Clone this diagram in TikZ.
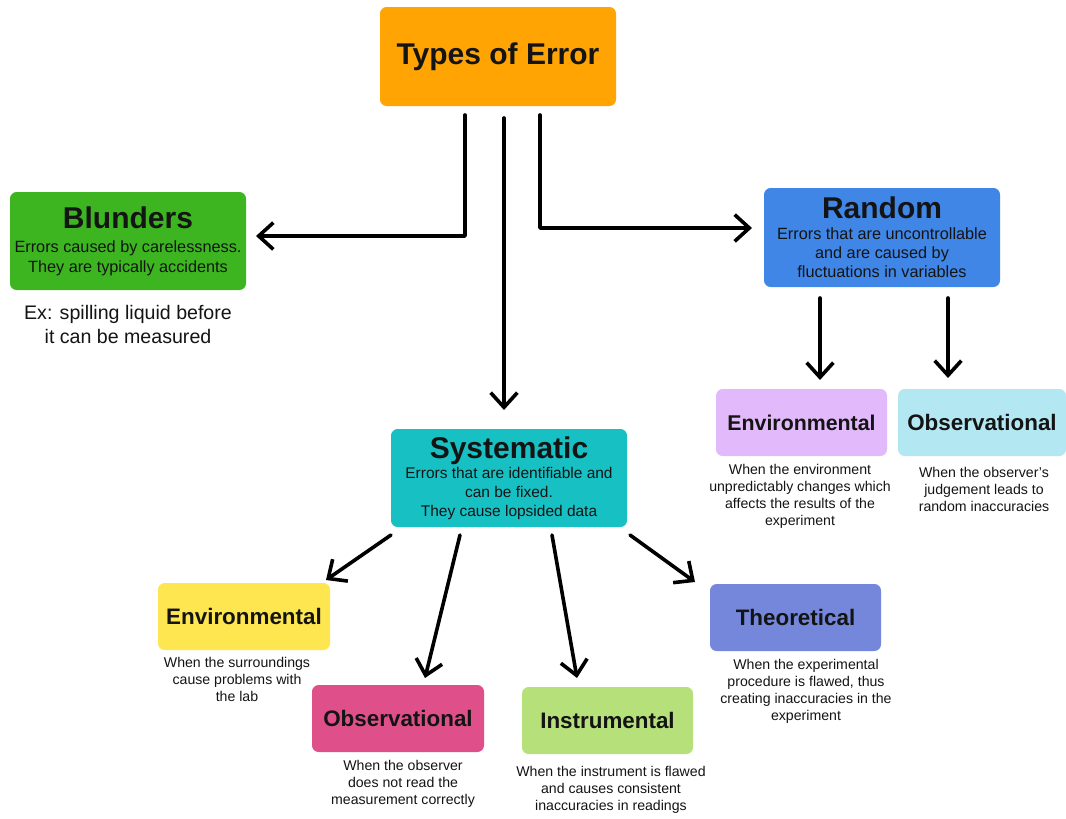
\documentclass[tikz,border=0pt]{standalone}
\usepackage{fontspec}
\setmainfont{Liberation Sans}
\usetikzlibrary{arrows.meta,calc}
\definecolor{cOrange}{HTML}{FFA402}
\definecolor{cGreen}{HTML}{3CB521}
\definecolor{cBlue}{HTML}{3F86E6}
\definecolor{cTeal}{HTML}{17C0C3}
\definecolor{cLav}{HTML}{E2B9FA}
\definecolor{cCyan}{HTML}{B3E7F2}
\definecolor{cYellow}{HTML}{FDE64F}
\definecolor{cPink}{HTML}{DF4F8A}
\definecolor{cLGreen}{HTML}{B6E07A}
\definecolor{cPeri}{HTML}{7487DA}
\definecolor{cText}{HTML}{141414}
\newcommand{\bigtitle}[1]{{\fontsize{22.5}{26}\selectfont\bfseries #1}}
\begin{document}
\begin{tikzpicture}[x=0.75pt,y=-0.75pt,
  box/.style={rounded corners=5pt,inner sep=0pt,outer sep=0pt,align=center,text=cText},
  bigbox/.style={box,minimum width=177pt,minimum height=73.5pt},
  smallbox/.style={box,minimum width=128.25pt,minimum height=50.25pt,font=\fontsize{16.8}{20}\selectfont\bfseries},
  desc/.style={align=center,inner sep=0pt,text=cText,font=\fontsize{10.6}{12.75}\selectfont},
  arr/.style={line width=2.7pt,line cap=round,line join=round,-{Straight Barb[length=11pt,width=20pt,line width=2.7pt]}}]
\useasboundingbox (0,0) rectangle (1066,818);
\fill[white] (0,0) rectangle (1066,818);

\node[box,fill=cOrange,minimum width=177pt,minimum height=74.25pt] (t) at (498,56.5)
  {\bigtitle{Types of Error}};

\node[bigbox,fill=cGreen,font=\fontsize{12.2}{15}\selectfont] (bl) at (128,241)
  {\bigtitle{Blunders}\\[3pt]Errors caused by carelessness.\\They are typically accidents};
\node[align=center,inner sep=0pt,text=cText,font=\fontsize{14.7}{18}\selectfont] (ex) at (128,324)
  {Ex: spilling liquid before\\it can be measured};

\node[bigbox,fill=cBlue,minimum height=74.25pt,font=\fontsize{12.2}{14.25}\selectfont] (rd) at (882,237.5)
  {\bigtitle{Random}\\[1.5pt]Errors that are uncontrollable\\and are caused by\\fluctuations in variables};

\node[bigbox,fill=cTeal,font=\fontsize{11.6}{14.25}\selectfont] (sy) at (509,478)
  {\bigtitle{Systematic}\\[0.5pt]Errors that are identifiable and\\can be fixed.\\They cause lopsided data};

\node[smallbox,fill=cLav,font=\fontsize{16}{20}\selectfont\bfseries] (re) at (801.5,422.5) {Environmental};
\node[smallbox,fill=cCyan,minimum width=126pt] (ro) at (982,422.5) {Observational};
\node[desc] (red) at (800,496) {When the environment\\unpredictably changes which\\affects the results of the\\experiment};
\node[desc] (rod) at (984,489) {When the observer’s\\judgement leads to\\random inaccuracies};

\node[smallbox,fill=cYellow,minimum width=129pt] (se) at (244,616.5) {Environmental};
\node[smallbox,fill=cPink,minimum width=129pt] (so) at (398,718.5) {Observational};
\node[smallbox,fill=cLGreen] (si) at (607.5,720.5) {Instrumental};
\node[smallbox,fill=cPeri] (st) at (795.5,617.5) {Theoretical};

\node[desc] (sed) at (237,679) {When the surroundings\\cause problems with\\the lab};
\node[desc] (sod) at (403,784) {When the observer\\does not read the\\measurement correctly};
\node[desc] (sid) at (611,790) {When the instrument is flawed\\and causes consistent\\inaccuracies in readings};
\node[desc] (std) at (806,691) {When the experimental\\procedure is flawed, thus\\creating inaccuracies in the\\experiment};

% connectors
\draw[arr] ($(t.south)+(-33,9)$) |- ($(bl.east)+(10,-5)$);
\draw[arr] ($(t.south)+(6,12)$) -- ($(sy.north)+(-5,-19)$);
\draw[arr] ($(t.south)+(42,9)$) |- ($(rd.west)+(-12,-9.5)$);

\draw[arr] ($(rd.south)+(-62,11)$) -- ($(re.north)+(18.5,-9)$);
\draw[arr] ($(rd.south)+(66,11)$) -- ($(ro.north)+(-34,-11)$);

\draw[arr] ($(sy.south west)+(0,8)$) -- ($(se.north east)+(-4,-3)$);
\draw[arr] ($(sy.south)+(-49,8)$) -- ($(so.north)+(27,-7)$);
\draw[arr] ($(sy.south)+(43,8)$) -- ($(si.north)+(-30.5,-9)$);
\draw[arr] ($(sy.south east)+(3,8)$) -- ($(st.north west)+(-15,-2)$);
\end{tikzpicture}
\end{document}
